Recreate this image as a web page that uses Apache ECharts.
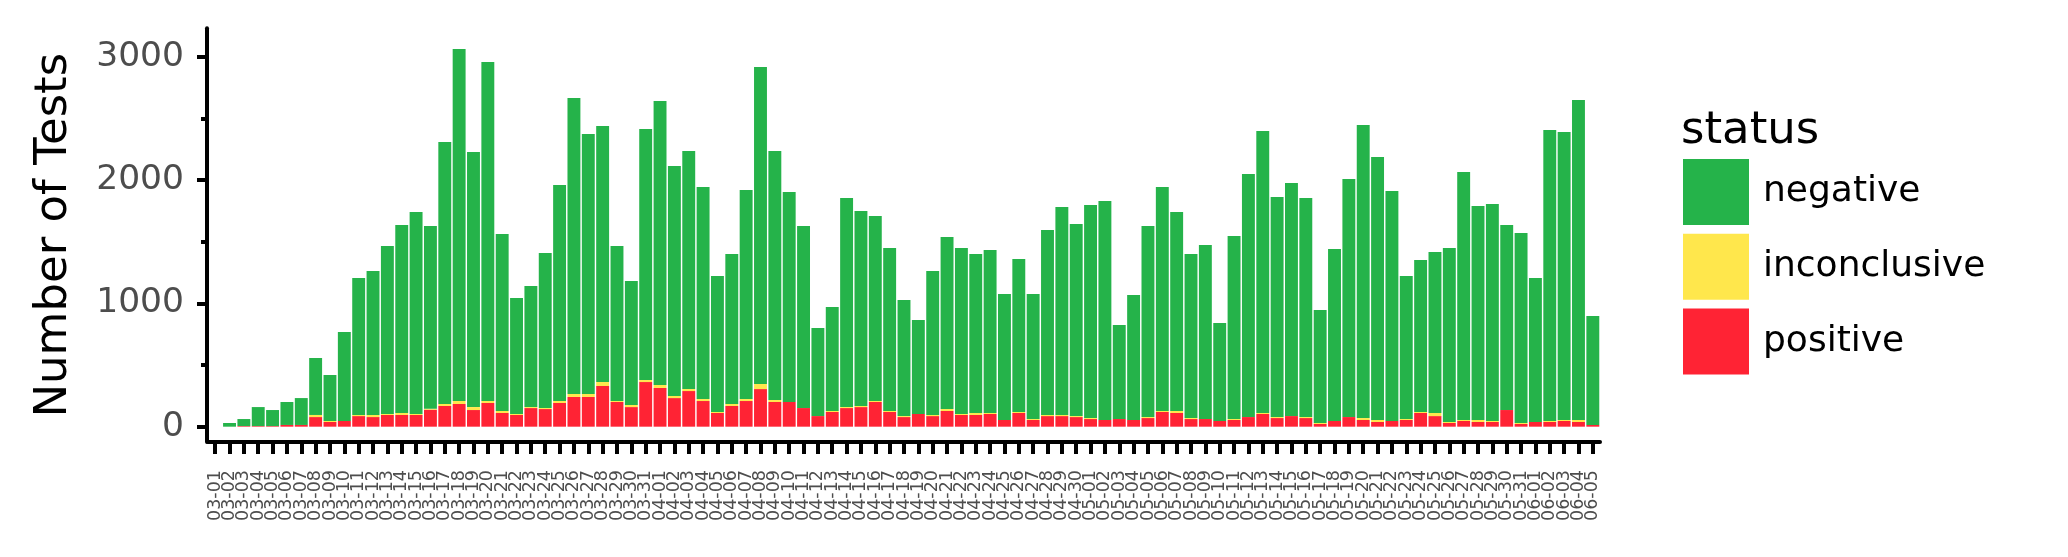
<!DOCTYPE html>
<html>
<head>
<meta charset="utf-8">
<script src="https://cdn.jsdelivr.net/npm/echarts@6/dist/echarts.min.js"></script>
<style>
html,body{margin:0;padding:0;background:#fff;}
#chart{width:2068px;height:557px;}
</style>
</head>
<body>
<div id="chart"></div>
<script>
const dates = [
"03-01","03-02","03-03","03-04","03-05","03-06","03-07","03-08","03-09","03-10",
"03-11","03-12","03-13","03-14","03-15","03-16","03-17","03-18","03-19","03-20",
"03-21","03-22","03-23","03-24","03-25","03-26","03-27","03-28","03-29","03-30","03-31",
"04-01","04-02","04-03","04-04","04-05","04-06","04-07","04-08","04-09","04-10",
"04-11","04-12","04-13","04-14","04-15","04-16","04-17","04-18","04-19","04-20",
"04-21","04-22","04-23","04-24","04-25","04-26","04-27","04-28","04-29","04-30",
"05-01","05-02","05-03","05-04","05-05","05-06","05-07","05-08","05-09","05-10",
"05-11","05-12","05-13","05-14","05-15","05-16","05-17","05-18","05-19","05-20",
"05-21","05-22","05-23","05-24","05-25","05-26","05-27","05-28","05-29","05-30","05-31",
"06-01","06-02","06-03","06-04","06-05"];

const positive = [0,0,5,5,5,14,14,78,38,46,86,78,95,95,95,138,168,184,135,192,111,95,151,143,192,241,241,330,200,159,362,
314,232,289,208,111,168,208,305,200,200,151,86,119,151,159,200,119,78,103,86,127,95,95,103,54,111,54,86,86,78,
62,54,62,54,70,119,111,62,62,46,54,78,103,70,86,70,22,46,78,54,38,46,54,111,86,30,46,38,38,135,22,
38,38,46,38,14];

const inconclusive = [0,0,0,0,0,0,0,17,8,0,9,17,8,16,8,8,16,24,24,16,16,8,8,8,16,24,24,32,8,17,16,
24,17,16,16,8,16,16,41,16,0,0,0,8,8,9,8,8,8,0,9,16,8,16,8,0,8,8,9,9,8,
8,0,0,0,8,8,16,8,0,0,8,0,8,8,0,8,8,0,0,16,16,0,8,8,25,8,8,16,8,0,8,
0,8,8,16,0];

const negative = [0,30,57,154,130,186,218,462,373,722,1110,1167,1362,1524,1637,1481,2124,2854,2068,2749,1435,940,982,1257,1751,2400,2108,2076,1257,1005,2036,
2303,1865,1930,1719,1103,1216,1695,2570,2019,1703,1476,714,843,1695,1581,1500,1322,941,762,1167,1395,1346,1289,1321,1022,1240,1014,1500,1686,1557,
1727,1776,762,1014,1549,1816,1613,1330,1411,795,1484,1971,2286,1784,1890,1776,916,1395,1930,2376,2132,1865,1160,1232,1305,1411,2011,1735,1759,1500,1540,
1167,2359,2335,2595,883];

const yMajorTicks = [0, 1000, 2000, 3000];
const yMinorTicks = [500, 1500, 2500];

const FONT = 'DejaVu Sans';
const chart = echarts.init(document.getElementById('chart'), null, {renderer: 'canvas'});

chart.setOption({
  animation: false,
  backgroundColor: '#ffffff',
  title: {
    text: 'status',
    left: 1681,
    top: 108.5,
    padding: 0,
    textStyle: {fontFamily: FONT, fontSize: 45, fontWeight: 'normal', color: '#000'}
  },
  legend: {
    orient: 'vertical',
    left: 1683,
    top: 159,
    padding: 0,
    itemWidth: 66,
    itemHeight: 66,
    itemGap: 8.7,
    icon: 'rect',
    selectedMode: false,
    data: ['negative', 'inconclusive', 'positive'],
    textStyle: {fontFamily: FONT, fontSize: 36, color: '#000', padding: [0, 0, 0, 9]}
  },
  grid: {left: 208, right: 468, top: 28.3, bottom: 114.9, containLabel: false},
  xAxis: {
    type: 'category',
    data: dates,
    boundaryGap: true,
    axisLine: {show: true, onZero: false, lineStyle: {color: '#000', width: 4}},
    axisTick: {show: true, alignWithLabel: true, interval: 0, length: 12, lineStyle: {color: '#000', width: 4}},
    axisLabel: {interval: 0, rotate: 90, margin: 28, fontFamily: FONT, fontSize: 17.5, color: '#4d4d4d', padding: [0, 0, 5, 0]},
    splitLine: {show: false}
  },
  yAxis: [{
    type: 'value',
    min: -125,
    max: 3230,
    offset: 1,
    position: 'left',
    name: 'Number of Tests',
    nameLocation: 'middle',
    nameRotate: 90,
    nameGap: 130,
    nameTextStyle: {fontFamily: FONT, fontSize: 45, color: '#000'},
    axisLine: {show: true, lineStyle: {color: '#000', width: 4}},
    axisTick: {show: true, length: 10, customValues: yMajorTicks, lineStyle: {color: '#000', width: 4}},
    axisLabel: {customValues: yMajorTicks, margin: 23, fontFamily: FONT, fontSize: 34.5, color: '#4d4d4d',
      formatter: function (v) { return String(v); }},
    splitLine: {show: false}
  }, {
    type: 'value',
    min: -125,
    max: 3230,
    offset: 1,
    position: 'left',
    axisLine: {show: false},
    axisTick: {show: true, length: 6, customValues: yMinorTicks, lineStyle: {color: '#000', width: 4}},
    axisLabel: {show: false},
    splitLine: {show: false}
  }],
  series: [
    {name: 'positive', type: 'bar', stack: 'total', data: positive, barWidth: '90%', itemStyle: {color: '#ff2334'}},
    {name: 'inconclusive', type: 'bar', stack: 'total', data: inconclusive, barWidth: '90%', itemStyle: {color: '#ffe74c'}},
    {name: 'negative', type: 'bar', stack: 'total', data: negative, barWidth: '90%', itemStyle: {color: '#25b34a'}}
  ]
});
</script>
</body>
</html>
